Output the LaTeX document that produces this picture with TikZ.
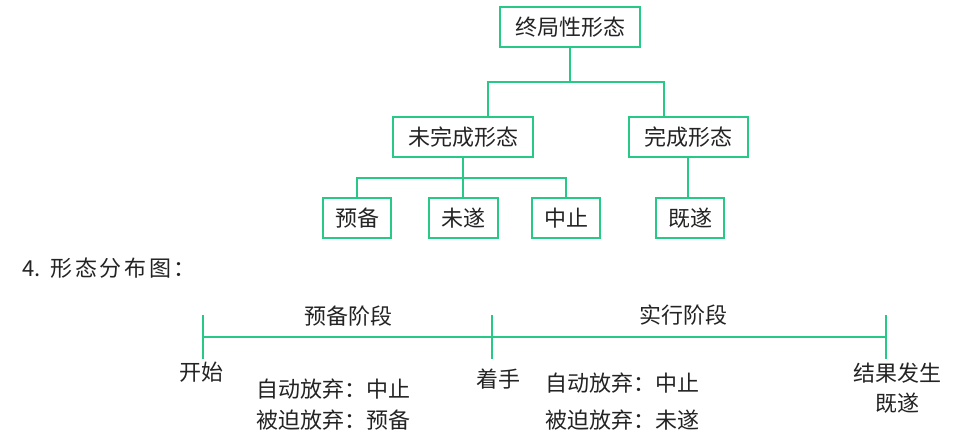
\documentclass[tikz,border=0pt]{standalone}
\usepackage{fontspec}
\setmainfont{Noto Sans CJK SC}
\definecolor{lineg}{RGB}{40,200,135}
\definecolor{ink}{RGB}{35,35,35}

\begin{document}
\begin{tikzpicture}[x=1pt,y=-1pt,
lbl/.style={font=\fontsize{22}{30}\selectfont,text=ink,inner sep=0pt,align=center},
box/.style={lbl,draw=lineg,line width=2pt,minimum height=40pt},
link/.style={draw=lineg,line width=2pt}]
\useasboundingbox (0,0) rectangle (970,439);
% tree of forms
\node[box,minimum width=140pt] (top) at (570,27) {终局性形态};
\node[box,minimum width=140pt] (unfin) at (463,137) {未完成形态};
\node[box,minimum width=119pt] (fin) at (688,137) {完成形态};
\node[box,minimum width=68pt] (prep) at (357,218) {预备};
\node[box,minimum width=69pt] (try) at (463,218) {未遂};
\node[box,minimum width=68pt] (stop) at (566,218) {中止};
\node[box,minimum width=68pt] (done) at (690,218) {既遂};
\draw[link] (top.south) -- ++(0,34) coordinate (split);
\draw[link] (split) -| ([xshift=25pt]unfin.north);
\draw[link] (split) -| ([xshift=-24pt]fin.north);
\draw[link] (unfin.south) -- (try.north);
\draw[link] ([yshift=-20pt]unfin.south) coordinate (split2);
\draw[link] (prep.north) |- (split2) -| (stop.north);
\draw[link] (fin.south) -- (fin.south |- done.north);
% time line
\node[lbl,anchor=west] (title) at (22,268) {4.\hspace{10pt}\addfontfeature{LetterSpace=12}形态分布图：};
\coordinate (t0) at (203,337);
\coordinate (t1) at (492,337);
\coordinate (t2) at (886,337);
\draw[link] (t0) -- (t2);
\foreach \t in {t0,t1,t2}
  \draw[link] ([yshift=22pt]\t) -- ([yshift=-22pt]\t);
\node[lbl] (prepstage) at (348,316) {预备阶段};
\node[lbl] (execstage) at (683,315) {实行阶段};
\node[lbl] (begin) at (201,372) {开始};
\node[lbl] (act) at (498,379) {着手};
\node[lbl] (prepnote) at (333,405) {自动放弃：中止\\[1pt]被迫放弃：预备};
\node[lbl] (execnote) at (622,402) {自动放弃：中止\\[7pt]被迫放弃：未遂};
\node[lbl] (result) at (897,388) {结果发生\\既遂};
\end{tikzpicture}
\end{document}
